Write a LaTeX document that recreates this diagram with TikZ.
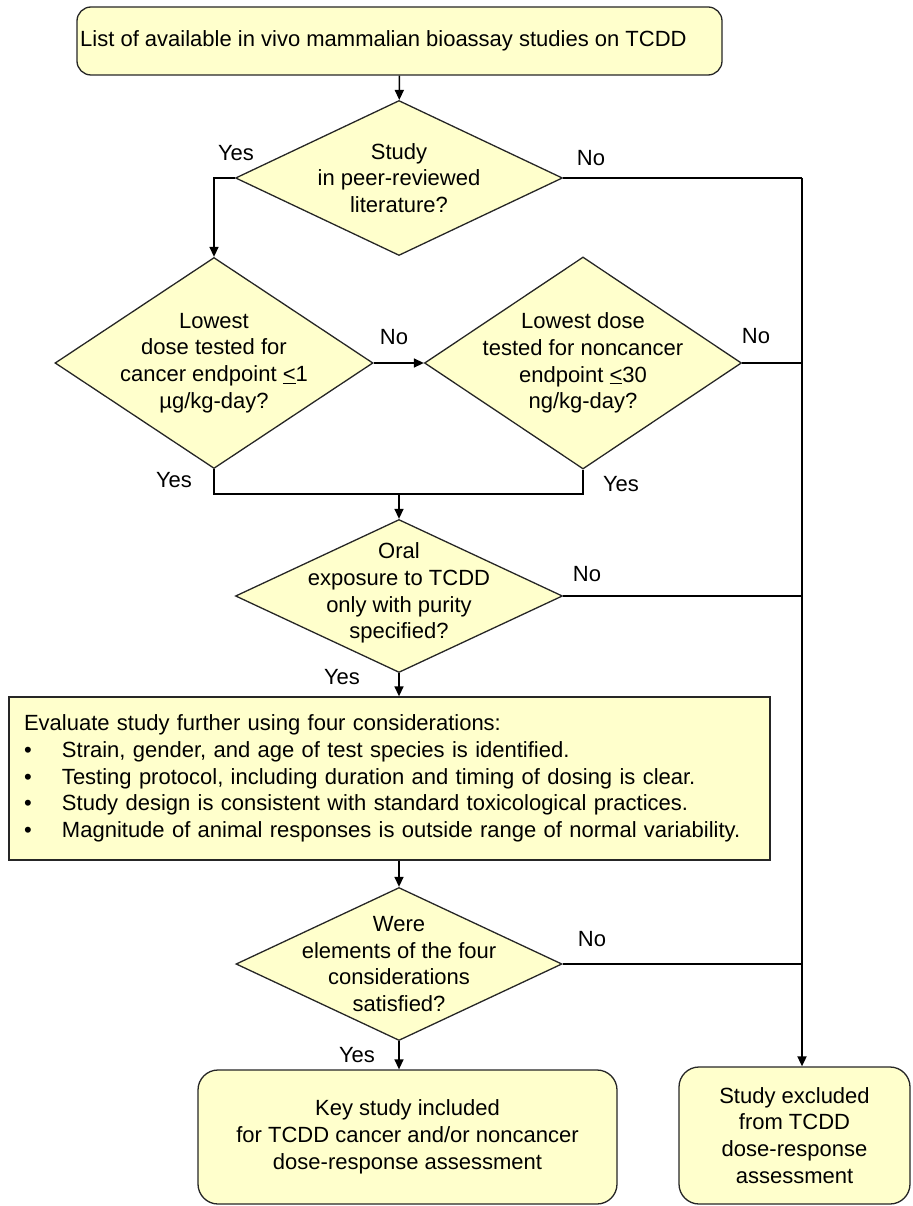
\documentclass[tikz,border=0pt]{standalone}
\usepackage{fontspec}
\setmainfont{Liberation Sans}
\usetikzlibrary{shapes.geometric,arrows.meta}
\definecolor{boxfill}{HTML}{FFFFCC}
\tikzset{
  base/.style={draw=black!85, line width=1.3pt, fill=boxfill},
  terminal/.style={base, rounded corners=14pt, align=center, inner sep=0pt},
  decision/.style={base, diamond, inner sep=0pt},
  process/.style={base, inner xsep=15pt, inner ysep=0pt, align=left},
  qtext/.style={align=center, inner sep=0pt},
  answer/.style={inner sep=0pt},
  flow/.style={line width=1.4pt, -{Triangle[length=10pt,width=9pt]}},
  link/.style={line width=1.4pt},
}
\begin{document}
\begin{tikzpicture}[x=1pt,y=-1pt,
    every node/.append style={font=\fontsize{22}{26.8}\selectfont}]
  \useasboundingbox (0,0) rectangle (912,1206);
  % boxes and decisions
  \node[terminal, minimum width=645pt, minimum height=68pt] (start) at (399.5,41) {};
  \node[anchor=west, inner sep=0pt] (startt) at (80,41)
    {List of available in vivo mammalian bioassay studies on TCDD};
  \node[decision, minimum width=327pt, minimum height=155pt] (d1) at (399,178) {};
  \node[qtext] (d1t) at (d1) {Study\\in peer-reviewed\\literature?};
  \node[decision, minimum width=318pt, minimum height=211pt] (d2) at (214,363) {};
  \node[qtext] (d2t) at (d2)
    {Lowest\\dose tested for\\cancer endpoint \underline{<}1\\µg/kg-day?};
  \node[decision, minimum width=317pt, minimum height=212pt] (d3) at (583,363) {};
  \node[qtext] (d3t) at (d3)
    {Lowest dose\\tested for noncancer\\endpoint \underline{<}30\\ng/kg-day?};
  \node[decision, minimum width=327pt, minimum height=153pt] (d4) at (399,596) {};
  \node[qtext] (d4t) at ([yshift=3pt]d4.center)
    {Oral\\exposure to TCDD\\only with purity\\specified?};
  \node[process, minimum width=761pt, minimum height=163pt, text width=731pt] (eval) at (389.5,778.5)
    {Evaluate study further using four considerations:\\
     \makebox[38pt][l]{\textbullet}Strain, gender, and age of test species is identified.\\
     \makebox[38pt][l]{\textbullet}Testing protocol, including duration and timing of dosing is clear.\\
     \makebox[38pt][l]{\textbullet}Study design is consistent with standard toxicological practices.\\
     \makebox[38pt][l]{\textbullet}Magnitude of animal responses is outside range of normal variability.};
  \node[decision, minimum width=326pt, minimum height=153pt] (d5) at (399,964) {};
  \node[qtext] (d5t) at (d5)
    {Were\\elements of the four\\considerations\\satisfied?};
  \node[terminal, rounded corners=20pt, minimum width=419pt, minimum height=134pt] (key) at (407.5,1137)
    {Key study included\\for TCDD cancer and/or noncancer\\dose-response assessment};
  \node[terminal, rounded corners=20pt, minimum width=231pt, minimum height=137pt] (excl) at (794.5,1135.5)
    {Study excluded\\from TCDD\\dose-response\\assessment};
  % answers
  \node[answer] (y1) at (236,153) {Yes};
  \node[answer] (n1) at (591,158) {No};
  \node[answer] (n2) at (394,337) {No};
  \node[answer] (n3) at (756,336) {No};
  \node[answer] (y2) at (174,480) {Yes};
  \node[answer] (y3) at (621,484) {Yes};
  \node[answer] (n4) at (587,574) {No};
  \node[answer] (y4) at (342,677) {Yes};
  \node[answer] (n5) at (592,939) {No};
  \node[answer] (y5) at (357,1055) {Yes};
  % connectors
  \coordinate (rail) at (802,178);
  \coordinate (merge) at (399,494);
  \draw[flow] (start) -- (d1);
  \draw[flow] (d1.west) -| (d2.north);
  \draw[link] (d1.east) -- (rail);
  \draw[flow, line width=1.8pt] (rail) -- (rail |- excl.north);
  \draw[flow] (d2.east) -- (d3.west);
  \draw[link] (d3.east) -- (d3.east -| rail);
  \draw[link] (d2.south) |- (merge) -| (d3.south);
  \draw[flow] (merge) -- (d4.north);
  \draw[link] (d4.east) -- (d4.east -| rail);
  \draw[flow] (d4.south) -- (d4.south |- eval.north);
  \draw[flow] (eval.south -| d5.north) -- (d5.north);
  \draw[link] (d5.east) -- (d5.east -| rail);
  \draw[flow] (d5.south) -- (d5.south |- key.north);
\end{tikzpicture}
\end{document}
